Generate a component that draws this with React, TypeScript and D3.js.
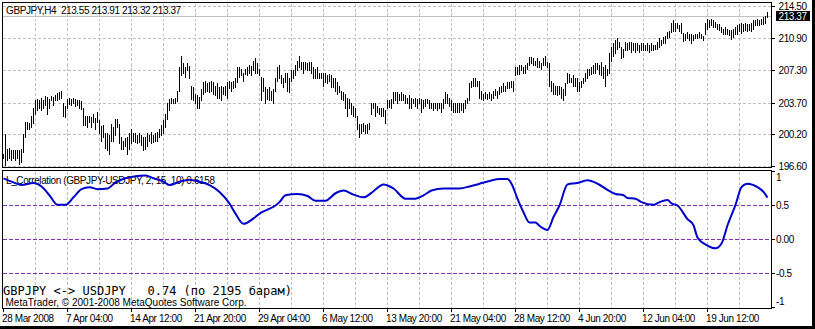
import React from 'react';
import * as d3 from 'd3';

// ---------- data ----------
const symbolTitle = 'GBPJPY,H4  213.55 213.91 213.32 213.37';
const lastPrice = 213.37;

const barHigh = [
  198.05,200.2,198.6,198.7,198.4,198.5,198.4,198.5,198.4,198.6,200.2,201.6,201.6,201.5,202.3,203.1,
  204.0,204.2,204.0,204.3,204.0,204.5,204.4,204.2,204.5,204.4,204.65,204.8,204.9,205.1,203.65,203.4,
  204.2,204.3,204.2,204.3,204.2,204.0,204.0,203.9,203.2,202.3,202.3,202.3,202.1,202.5,202.0,202.65,
  201.75,201.1,201.2,200.4,200.3,200.1,201.4,201.0,201.95,201.95,201.4,199.85,199.5,199.75,199.85,200.3,
  200.85,200.4,200.3,200.1,200.3,200.1,199.85,199.95,200.3,200.1,200.5,200.1,200.3,200.5,200.85,201.2,
  201.75,202.5,203.65,204.2,204.3,204.2,204.3,205.1,207.7,209.0,208.2,207.7,208.2,207.8,205.65,205.45,
  204.75,204.55,204.4,205.3,206.0,206.2,205.9,206.0,206.2,206.0,205.65,205.9,205.45,205.65,205.45,205.65,
  206.0,206.2,206.0,206.2,206.55,207.7,207.7,207.55,207.1,207.55,207.7,207.9,207.8,208.45,208.7,208.15,
  207.55,206.6,206.45,205.45,205.3,205.45,205.1,205.3,206.55,207.7,207.9,206.8,206.55,207.1,207.1,206.55,
  207.35,207.35,207.9,208.45,209.0,208.3,208.3,208.3,208.15,208.3,208.3,207.7,207.55,207.7,207.1,207.1,
  207.1,207.1,206.8,207.0,206.8,206.45,206.45,206.0,205.65,205.1,204.9,204.75,204.3,204.2,203.65,203.4,
  203.2,202.3,201.4,201.4,201.5,201.2,201.4,201.5,203.65,203.75,203.75,203.4,203.2,203.2,203.1,202.9,
  203.99,203.99,204.1,204.9,204.9,204.9,204.75,204.9,204.75,204.55,204.3,204.55,204.3,204.2,204.3,204.2,
  204.3,204.2,203.99,204.2,204.2,203.99,203.75,203.65,203.75,203.65,203.75,203.65,204.2,204.9,204.75,204.3,
  203.99,203.75,203.75,203.65,203.75,203.65,203.75,203.99,204.3,205.9,206.2,206.55,206.45,206.2,206.2,205.1,
  204.75,204.9,204.75,204.9,204.75,205.1,205.3,205.1,205.45,205.65,205.9,205.65,206.0,206.0,206.2,206.2,
  207.7,207.7,207.9,207.9,207.7,207.9,208.2,208.8,208.8,208.7,208.45,208.7,208.45,208.15,208.7,209.0,
  208.3,208.15,206.2,205.9,205.65,205.65,205.65,205.45,205.3,205.9,207.1,207.0,206.55,206.8,206.55,206.45,
  206.0,206.2,206.45,207.1,207.55,207.55,207.7,207.9,208.15,208.15,207.9,208.3,207.7,207.9,207.55,209.25,
  209.95,210.4,210.7,210.95,210.5,209.95,209.8,210.5,210.4,210.5,210.5,210.4,210.4,210.4,210.15,210.4,
  210.4,210.15,210.4,210.15,210.4,210.15,210.15,210.5,210.95,210.7,211.05,211.25,211.6,211.8,212.6,212.95,
  212.6,212.6,212.4,212.6,211.5,211.4,211.6,211.4,211.4,211.3,211.4,211.4,211.6,211.4,211.25,212.7,
  213.05,212.95,213.05,212.95,212.75,212.5,212.5,212.2,211.95,212.2,211.95,211.85,211.85,211.95,212.2,212.4,
  212.5,212.6,212.5,212.6,212.5,212.5,212.6,213.0,213.0,213.1,213.0,213.1,213.3,213.45,213.91,
];

const barLow = [
  197.5,196.8,197.3,197.5,197.3,197.6,197.3,197.5,196.9,197.05,198.2,199.85,200.85,200.85,201.0,201.5,
  202.5,202.9,203.1,202.9,203.2,203.5,202.5,203.2,204.0,203.5,204.0,204.0,204.2,204.3,202.3,202.1,
  203.2,203.6,203.5,203.75,203.4,203.5,203.2,203.0,201.2,201.2,201.0,201.6,201.0,201.6,200.85,201.6,
  200.4,199.5,199.85,198.7,198.4,198.05,199.5,199.5,200.1,201.0,199.2,198.6,198.6,198.85,198.05,198.6,
  199.2,199.5,199.3,199.2,199.3,198.95,198.4,198.6,198.85,199.5,199.2,199.3,199.4,199.5,199.85,200.1,
  200.4,201.0,201.9,202.9,203.65,203.75,203.65,203.9,205.1,206.8,207.1,206.6,207.35,206.45,204.2,203.99,
  203.65,203.2,203.2,203.99,204.75,204.9,205.1,204.9,205.1,204.75,204.55,204.3,204.3,203.99,204.75,204.55,
  204.3,205.35,205.1,205.35,205.45,206.0,206.6,206.8,206.2,206.9,206.8,207.1,206.8,207.35,207.1,207.1,
  206.8,203.99,205.1,203.65,204.2,203.99,203.99,203.65,205.1,206.2,206.55,205.9,205.45,206.0,205.1,204.9,
  206.2,206.55,206.8,207.35,207.7,207.55,207.1,207.55,207.35,207.35,207.1,206.55,206.45,206.55,206.45,206.45,
  205.65,206.0,205.9,206.2,205.45,205.45,205.1,204.75,204.9,204.2,203.99,203.2,202.3,203.2,202.5,202.3,
  202.1,200.85,199.85,200.4,200.6,200.3,200.3,200.85,202.5,203.1,202.3,202.65,202.5,202.3,202.3,201.5,
  203.1,203.3,203.1,203.75,203.99,203.65,203.99,203.99,203.99,203.75,203.65,203.1,203.2,203.65,203.4,203.2,
  203.65,202.65,203.2,203.4,203.65,203.2,203.1,202.9,203.1,202.9,203.1,202.65,203.1,203.75,203.75,203.4,
  202.9,202.65,202.65,202.65,202.65,202.9,202.65,203.2,203.75,203.99,205.45,205.65,205.65,205.65,204.3,204.2,
  203.99,204.3,204.2,204.3,203.99,204.3,204.55,204.3,204.75,204.9,205.1,205.1,205.35,205.35,205.45,205.1,
  206.8,207.0,207.0,207.35,207.1,207.1,207.55,207.9,208.15,207.9,207.9,207.7,207.7,207.55,207.9,207.9,
  207.7,205.65,205.1,204.75,204.75,204.55,204.75,204.3,203.99,204.55,205.9,206.0,206.0,205.65,205.65,205.1,
  205.1,205.45,205.9,206.2,206.45,206.8,207.0,207.1,207.1,207.55,207.0,206.8,206.45,205.65,206.8,207.1,
  208.45,209.0,209.25,209.8,209.95,208.7,208.8,209.6,209.6,209.8,209.4,209.6,209.4,209.6,209.4,209.6,
  209.6,209.6,209.6,209.4,209.6,209.6,209.8,209.8,209.95,210.15,210.4,210.4,210.95,211.05,211.6,211.8,
  211.8,212.05,211.8,211.5,210.6,210.7,210.95,210.7,210.4,210.7,210.95,210.95,211.05,210.95,210.7,211.4,
  211.95,212.2,212.4,212.2,212.2,211.95,211.85,211.7,211.45,211.45,211.45,211.3,210.85,211.05,211.45,211.45,
  211.75,211.5,211.75,211.9,211.75,211.9,211.75,212.0,212.4,212.4,212.4,212.5,212.5,212.7,213.32,
];

const corrBar = [0,5,9,15,19,23,27,31,35,39,43,47,52,56,61,66,71,75,80,83,88,93,98,103,108,113,116,120,125,129,132,136,138,141,147,152,156,161,166,170,175,180,185,190,195,201,206,210,214,220,228,233,238,243,248,252,254,257,260,263,266,268,272,275,278,282,287,292,297,302,306,310,312,316,319,325,328,332,334,337,342,345,347,352,356,359,362,366,369,372,377,380,382];
const corrValue = [0.90,0.84,0.80,0.83,0.78,0.65,0.51,0.51,0.62,0.74,0.77,0.74,0.75,0.84,0.90,0.93,0.94,0.90,0.85,0.80,0.85,0.88,0.85,0.80,0.70,0.53,0.38,0.23,0.31,0.40,0.44,0.50,0.55,0.65,0.67,0.64,0.57,0.57,0.68,0.72,0.66,0.62,0.71,0.81,0.75,0.60,0.60,0.65,0.72,0.75,0.75,0.78,0.82,0.86,0.89,0.89,0.82,0.60,0.40,0.25,0.25,0.20,0.14,0.33,0.50,0.81,0.83,0.87,0.82,0.73,0.67,0.65,0.61,0.60,0.55,0.51,0.55,0.58,0.53,0.50,0.30,0.21,0.03,-0.09,-0.13,-0.06,0.21,0.51,0.77,0.82,0.77,0.70,0.6158];

const priceTicks = [196.6, 200.2, 203.7, 207.3, 210.9, 214.5];
const corrTicks = [1, 0.5, 0, -0.5, -1];
const corrTickLabels = ['1', '0.5', '0.00', '-0.5', '-1'];
const corrLevels = [0.5, 0, -0.5];
const timeLabels = ['28 Mar 2008', '7 Apr 04:00', '14 Apr 12:00', '21 Apr 20:00', '29 Apr 04:00', '6 May 12:00', '13 May 20:00', '21 May 04:00', '28 May 12:00', '4 Jun 20:00', '12 Jun 04:00', '19 Jun 12:00'];
const timeLabelBars = [0, 32, 64, 96, 128, 160, 192, 224, 256, 288, 320, 352];
const gridBars = [16,32,48,64,80,96,112,128,144,160,176,192,208,224,240,256,272,288,304,320,336,352,368];

const indicatorTitle = 'L_Correlation (GBPJPY-USDJPY, 2, 15, 10) 0.6158';
const pairText = 'GBPJPY <-> USDJPY   0.74 (по 2195 барам)';
const copyrightText = 'MetaTrader, © 2001-2008 MetaQuotes Software Corp.';

// ---------- layout ----------
const W = 815, H = 329;
const L = 2.5, R = 771.5;
const UT = 2.5, UB = 167.5;
const LT = 170.5, LB = 308.5;
const snap = (v: number) => Math.round(v - 0.5) + 0.5;
const SANS = '"Liberation Sans", Arial, sans-serif';
const PRE = { whiteSpace: 'pre' as const };

export default function App() {
  const n = barHigh.length;
  const x = d3.scaleLinear().domain([0, n - 1]).range([3.5, 3.5 + 2 * (n - 1)]);
  const yP = d3.scaleLinear().domain([196.6, 214.5]).range([166.5, 6.5]);
  const yC = d3.scaleLinear().domain([-1, 1]).range([307.5, 171.5]);

  const corrLine = d3.line<number>()
    .x((_, i) => x(corrBar[i]))
    .y((d) => yC(d))
    .curve(d3.curveMonotoneX)(corrValue) || '';

  const grid = '#c0c0c0';
  const priceY = snap(yP(lastPrice));

  return (
    <svg width={W} height={H} style={{ position: 'fixed', left: 0, top: 0, background: '#fff' }}>
      <rect x={0} y={0} width={W} height={H} fill="#fff" />

      {/* vertical grid */}
      {gridBars.map((b) => (
        <g key={'vg' + b} stroke={grid} strokeDasharray="3,2" shapeRendering="crispEdges">
          <line x1={snap(x(b))} x2={snap(x(b))} y1={UT + 1} y2={UB} />
          <line x1={snap(x(b))} x2={snap(x(b))} y1={LT + 1} y2={LB} />
        </g>
      ))}
      {/* horizontal price grid */}
      {priceTicks.map((p) => (
        <line key={'hg' + p} x1={L} x2={R} y1={snap(yP(p))} y2={snap(yP(p))}
          stroke={grid} strokeDasharray="3,2" shapeRendering="crispEdges" />
      ))}
      {/* bid line */}
      <line x1={L} x2={R} y1={priceY} y2={priceY} stroke={grid} shapeRendering="crispEdges" />

      {/* title */}
      <text x={6} y={14} fontFamily={SANS} fontSize={10} letterSpacing={-0.4} fill="#000" style={PRE}>{symbolTitle}</text>

      {/* bars */}
      <g stroke="#000" shapeRendering="crispEdges">
        {barHigh.map((h, i) => (
          <line key={'b' + i} x1={x(i)} x2={x(i)} y1={Math.round(yP(h))} y2={Math.round(yP(barLow[i])) + 1} />
        ))}
      </g>

      {/* indicator levels */}
      {corrLevels.map((v) => (
        <line key={'lv' + v} x1={L} x2={R} y1={snap(yC(v))} y2={snap(yC(v))}
          stroke="#8030b0" strokeDasharray="4,2" shapeRendering="crispEdges" />
      ))}

      <text x={6} y={184} fontFamily={SANS} fontSize={10} letterSpacing={-0.4} fill="#000">{indicatorTitle}</text>
      <path d={corrLine} fill="none" stroke="#0000cc" strokeWidth={2} strokeLinejoin="round" />

      <text x={3} y={295} fontFamily='"DejaVu Sans Mono", monospace' fontSize={12} fill="#000" style={PRE}>{pairText}</text>
      <text x={5.5} y={305.5} fontFamily={SANS} fontSize={10} fill="#000">{copyrightText}</text>

      {/* pane frames */}
      <rect x={L} y={UT} width={R - L} height={UB - UT} fill="none" stroke="#000" shapeRendering="crispEdges" />
      <rect x={L} y={LT} width={R - L} height={LB - LT} fill="none" stroke="#000" shapeRendering="crispEdges" />

      {/* price axis */}
      {priceTicks.map((p) => (
        <g key={'pt' + p}>
          <line x1={R} x2={775} y1={snap(yP(p))} y2={snap(yP(p))} stroke="#000" shapeRendering="crispEdges" />
          <text x={778.5} y={snap(yP(p)) + 3} fontFamily={SANS} fontSize={10} letterSpacing={-0.4} fill="#000">{p.toFixed(2)}</text>
        </g>
      ))}
      <rect x={776} y={11} width={34} height={10} fill="#000" />
      <text x={778.5} y={19.8} fontFamily={SANS} fontSize={10} letterSpacing={-0.4} fill="#fff">{lastPrice.toFixed(2)}</text>

      {/* indicator axis */}
      {corrTicks.map((v, i) => {
        const ty = snap(yC(v));
        const by = Math.min(Math.max(ty + 3.5, LT + 10.5), LB - 3.5);
        return (
          <g key={'ct' + v}>
            <line x1={R} x2={775} y1={ty} y2={ty} stroke="#000" shapeRendering="crispEdges" />
            <text x={776} y={by} fontFamily={SANS} fontSize={10} letterSpacing={-0.4} fill="#000">{corrTickLabels[i]}</text>
          </g>
        );
      })}

      {/* time axis */}
      {timeLabels.map((t, i) => {
        const tx = snap(x(timeLabelBars[i]));
        return (
          <g key={'tl' + i}>
            <line x1={tx} x2={tx} y1={LB} y2={312} stroke="#000" shapeRendering="crispEdges" />
            <text x={tx - 1.5} y={321.5} fontFamily={SANS} fontSize={10} letterSpacing={-0.4} fill="#000">{t}</text>
          </g>
        );
      })}

      {/* window frame */}
      <rect x={812} y={0} width={3} height={H} fill="#000" />
      <rect x={0} y={326} width={W} height={3} fill="#000" />
    </svg>
  );
}
